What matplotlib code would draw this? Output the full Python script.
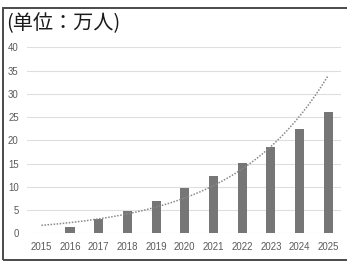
import numpy as np
import matplotlib
matplotlib.use("Agg")
import matplotlib.pyplot as plt
from matplotlib.patches import Rectangle

# ---- Data ----
YEARS = ["2015", "2016", "2017", "2018", "2019", "2020",
         "2021", "2022", "2023", "2024", "2025"]
VALUES = [np.nan, 1.4, 3.1, 4.9, 7.0, 9.7, 12.3, 15.1, 18.5, 22.4, 26.1]
Y_TICKS = [0, 5, 10, 15, 20, 25, 30, 35, 40]
TITLE = "(单位：万人)"

# ---- Style ----
BAR_COLOR = "#767676"
TREND_COLOR = "#8a8a8a"
GRID_COLOR = "#dedede"
LABEL_COLOR = "#595959"
TICK_FONT = ["Liberation Sans", "DejaVu Sans"]


def exp_trend(values):
    """Excel-style exponential trendline fitted on series index (1..n)."""
    vals = np.asarray(values, dtype=float)
    idx = np.arange(1, len(vals) + 1)
    ok = ~np.isnan(vals)
    b, ln_a = np.polyfit(idx[ok], np.log(vals[ok]), 1)
    xs = np.linspace(1, len(vals), 200)
    return xs - 1, np.exp(ln_a) * np.exp(b * xs)


def main():
    fig = plt.figure(figsize=(3.47, 2.64), dpi=100)
    ax = fig.add_axes([0.078, 0.1163, 0.905, 0.7042])

    x = np.arange(len(YEARS))
    heights = np.nan_to_num(np.array(VALUES, dtype=float))
    ax.bar(x, heights, width=0.32, color=BAR_COLOR, zorder=3)

    tx, ty = exp_trend(VALUES)
    ax.plot(tx, ty, color=TREND_COLOR, lw=1.1, ls=(0, (1, 1)), zorder=4)

    ax.set_xlim(-0.5, 10.45)
    ax.set_ylim(0, 40)
    ax.set_yticks(Y_TICKS)
    ax.set_xticks(x)
    ax.set_xticklabels(YEARS)
    ax.yaxis.grid(True, color=GRID_COLOR, lw=0.8, zorder=0)
    ax.tick_params(length=0, colors=LABEL_COLOR, labelsize=6.9)
    ax.tick_params(axis="y", pad=6)
    ax.tick_params(axis="x", pad=6.5)
    for lab in ax.get_xticklabels() + ax.get_yticklabels():
        lab.set_family(TICK_FONT)
    for s in ax.spines.values():
        s.set_visible(False)

    fig.text(0.017, 0.909, TITLE, fontsize=14.5, va="center", ha="left",
             color="#1a1a1a", family=["Noto Sans CJK JP", "DejaVu Sans"])

    # outer frame (right edge runs off the image)
    frame = Rectangle((3 / 347, 1 - 260 / 264), 1.0, (260 - 8) / 264,
                      transform=fig.transFigure, fill=False,
                      edgecolor="#4a4a4a", lw=1.4)
    fig.patches.append(frame)

    fig.savefig("out.png", dpi=100, facecolor="white")


if __name__ == "__main__":
    main()
